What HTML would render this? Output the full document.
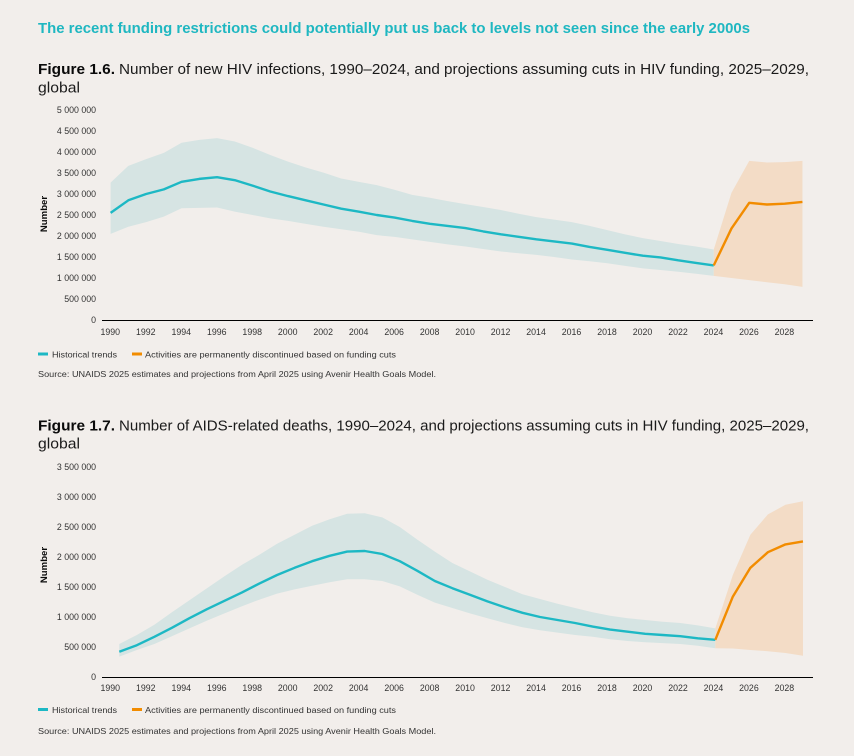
<!DOCTYPE html>
<html lang="en">
<head>
<meta charset="utf-8">
<title>HIV funding restrictions figures</title>
<style>
html,body{margin:0;padding:0;background:#f2eeeb;}
body{width:854px;height:756px;overflow:hidden;}
svg{display:block;font-family:"Liberation Sans",sans-serif;}
.fig-b{font-size:15px;font-weight:bold;fill:#0a0a0a;}
.fig-r{font-size:15px;fill:#1a1a1a;}
.small{font-size:8.6px;fill:#333;}
.tick{font-size:8.8px;fill:#333;}
.axis-title{font-size:9.6px;font-weight:bold;fill:#0a0a0a;}
</style>
</head>
<body>
<svg id="page" width="854" height="756" viewBox="0 0 854 756" xmlns="http://www.w3.org/2000/svg">
  <rect width="854" height="756" fill="#f2eeeb"/>
  <text x="38" y="33" font-size="15" font-weight="bold" fill="#1fb7c1" textLength="712" lengthAdjust="spacingAndGlyphs">The recent funding restrictions could potentially put us back to levels not seen since the early 2000s</text>

  <text class="fig-b" x="38" y="74" textLength="77" lengthAdjust="spacingAndGlyphs">Figure 1.6.</text>
  <text class="fig-r" x="119" y="74" textLength="690" lengthAdjust="spacingAndGlyphs">Number of new HIV infections, 1990–2024, and projections assuming cuts in HIV funding, 2025–2029,</text>
  <text class="fig-r" x="38" y="92.5" textLength="42" lengthAdjust="spacingAndGlyphs">global</text>
  <g id="chart-hiv"></g>
  <text class="axis-title" text-anchor="middle" transform="translate(47,214) rotate(-90)">Number</text>
  <rect x="38" y="352.5" width="10" height="3" fill="#1db8c4"/>
  <text class="small" x="52" y="357.3" textLength="65" lengthAdjust="spacingAndGlyphs">Historical trends</text>
  <rect x="132" y="352.5" width="10" height="3" fill="#f28c00"/>
  <text class="small" x="145" y="357.3" textLength="251" lengthAdjust="spacingAndGlyphs">Activities are permanently discontinued based on funding cuts</text>
  <text class="small" x="38" y="377" textLength="398" lengthAdjust="spacingAndGlyphs">Source: UNAIDS 2025 estimates and projections from April 2025 using Avenir Health Goals Model.</text>

  <text class="fig-b" x="38" y="430.5" textLength="77" lengthAdjust="spacingAndGlyphs">Figure 1.7.</text>
  <text class="fig-r" x="119" y="430.5" textLength="690" lengthAdjust="spacingAndGlyphs">Number of AIDS-related deaths, 1990–2024, and projections assuming cuts in HIV funding, 2025–2029,</text>
  <text class="fig-r" x="38" y="448.5" textLength="42" lengthAdjust="spacingAndGlyphs">global</text>
  <g id="chart-aids"></g>
  <text class="axis-title" text-anchor="middle" transform="translate(47,565) rotate(-90)">Number</text>
  <rect x="38" y="708" width="10" height="3" fill="#1db8c4"/>
  <text class="small" x="52" y="713" textLength="65" lengthAdjust="spacingAndGlyphs">Historical trends</text>
  <rect x="132" y="708" width="10" height="3" fill="#f28c00"/>
  <text class="small" x="145" y="713" textLength="251" lengthAdjust="spacingAndGlyphs">Activities are permanently discontinued based on funding cuts</text>
  <text class="small" x="38" y="734" textLength="398" lengthAdjust="spacingAndGlyphs">Source: UNAIDS 2025 estimates and projections from April 2025 using Avenir Health Goals Model.</text>
</svg>
<script>
// Shared categories (years)
const histYears = [1990,1991,1992,1993,1994,1995,1996,1997,1998,1999,2000,2001,2002,2003,2004,2005,2006,2007,2008,2009,2010,2011,2012,2013,2014,2015,2016,2017,2018,2019,2020,2021,2022,2023,2024];
const projYears = [2024,2025,2026,2027,2028,2029];
const xTickYears = [1990,1992,1994,1996,1998,2000,2002,2004,2006,2008,2010,2012,2014,2016,2018,2020,2022,2024,2026,2028];

// Figure 1.6: new HIV infections (millions)
const hivCentral = [2.55,2.85,3.00,3.11,3.29,3.36,3.40,3.33,3.20,3.06,2.95,2.85,2.75,2.65,2.58,2.50,2.44,2.36,2.29,2.24,2.19,2.11,2.04,1.98,1.92,1.87,1.82,1.74,1.67,1.60,1.53,1.49,1.42,1.36,1.30];
const hivUpper = [3.27,3.67,3.83,3.98,4.22,4.29,4.33,4.25,4.10,3.93,3.77,3.63,3.51,3.37,3.29,3.21,3.10,2.98,2.91,2.83,2.76,2.69,2.62,2.53,2.45,2.39,2.33,2.24,2.14,2.04,1.95,1.88,1.81,1.75,1.68];
const hivLower = [2.05,2.22,2.33,2.46,2.66,2.67,2.68,2.58,2.50,2.42,2.36,2.29,2.22,2.16,2.10,2.02,1.98,1.92,1.86,1.80,1.75,1.69,1.63,1.59,1.55,1.50,1.44,1.40,1.35,1.29,1.23,1.19,1.15,1.10,1.05];
const hivProjCentral = [1.30,2.18,2.79,2.75,2.77,2.81];
const hivProjUpper = [1.68,3.03,3.79,3.75,3.76,3.79];
const hivProjLower = [1.05,1.00,0.95,0.90,0.85,0.79];
const hivTickValues = [0,0.5,1,1.5,2,2.5,3,3.5,4,4.5,5];
const hivTickLabels = ["0","500 000","1 000 000","1 500 000","2 000 000","2 500 000","3 000 000","3 500 000","4 000 000","4 500 000","5 000 000"];

// Figure 1.7: AIDS-related deaths (millions)
const aidsCentral = [0.42,0.53,0.67,0.82,0.98,1.13,1.27,1.41,1.56,1.70,1.82,1.93,2.02,2.09,2.10,2.05,1.93,1.77,1.60,1.48,1.37,1.26,1.16,1.07,1.00,0.95,0.90,0.84,0.79,0.755,0.72,0.70,0.68,0.645,0.62];
const aidsUpper = [0.55,0.70,0.87,1.08,1.28,1.48,1.68,1.87,2.04,2.22,2.37,2.52,2.63,2.72,2.73,2.66,2.50,2.29,2.09,1.90,1.76,1.62,1.50,1.38,1.30,1.22,1.15,1.08,1.02,0.98,0.95,0.92,0.90,0.86,0.81];
const aidsLower = [0.34,0.45,0.55,0.68,0.81,0.94,1.06,1.18,1.29,1.39,1.46,1.52,1.58,1.63,1.63,1.60,1.51,1.37,1.24,1.15,1.06,0.98,0.90,0.83,0.78,0.74,0.70,0.67,0.63,0.60,0.58,0.565,0.55,0.52,0.48];
const aidsProjCentral = [0.62,1.34,1.82,2.08,2.21,2.26];
const aidsProjUpper = [0.81,1.70,2.37,2.71,2.87,2.93];
const aidsProjLower = [0.48,0.475,0.45,0.43,0.40,0.355];
const aidsTickValues = [0,0.5,1,1.5,2,2.5,3,3.5];
const aidsTickLabels = ["0","500 000","1 000 000","1 500 000","2 000 000","2 500 000","3 000 000","3 500 000"];

const SVGNS = "http://www.w3.org/2000/svg";
const TEAL = "#1db8c4", TEAL_BAND = "#d6e4e3", ORANGE = "#f28c00", ORANGE_BAND = "#f3dcc6";

function tickX(year){ return 110.3 + (year - 1990) * 17.74; }

function pathPoints(xs, vals, xFn, yFn){
  return xs.map(function(x, i){ return xFn(x).toFixed(2) + "," + yFn(vals[i]).toFixed(2); });
}

function drawChart(root, xFn, yFn, axisY, labelOffset, tickValues, tickLabels, central, upper, lower, pCentral, pUpper, pLower){
  const histBand = document.createElementNS(SVGNS, "polygon");
  
  
  histBand.setAttribute("fill", TEAL_BAND);
  histBand.setAttribute("points", pathPoints(histYears, upper, xFn, yFn).concat(pathPoints(histYears, lower, xFn, yFn).reverse()).join(" "));
  root.appendChild(histBand);

  const projBand = document.createElementNS(SVGNS, "polygon");
  
  
  projBand.setAttribute("fill", ORANGE_BAND);
  projBand.setAttribute("points", pathPoints(projYears, pUpper, xFn, yFn).concat(pathPoints(projYears, pLower, xFn, yFn).reverse()).join(" "));
  root.appendChild(projBand);

  const histLine = document.createElementNS(SVGNS, "polyline");
  
  
  histLine.setAttribute("fill", "none");
  histLine.setAttribute("stroke", TEAL);
  histLine.setAttribute("stroke-width", "2.4");
  histLine.setAttribute("stroke-linejoin", "round");
  histLine.setAttribute("points", pathPoints(histYears, central, xFn, yFn).join(" "));
  root.appendChild(histLine);

  const projLine = document.createElementNS(SVGNS, "polyline");
  
  
  projLine.setAttribute("fill", "none");
  projLine.setAttribute("stroke", ORANGE);
  projLine.setAttribute("stroke-width", "2.4");
  projLine.setAttribute("stroke-linejoin", "round");
  projLine.setAttribute("points", pathPoints(projYears, pCentral, xFn, yFn).join(" "));
  root.appendChild(projLine);

  const axis = document.createElementNS(SVGNS, "line");
  
  
  axis.setAttribute("x1", 102);
  axis.setAttribute("x2", 813);
  axis.setAttribute("y1", axisY);
  axis.setAttribute("y2", axisY);
  axis.setAttribute("stroke", "#000");
  axis.setAttribute("stroke-width", "1");
  root.appendChild(axis);

  tickValues.forEach(function(v, i){
    const t = document.createElementNS(SVGNS, "text");
    
    
    t.setAttribute("class", "tick");
    t.setAttribute("x", 96);
    t.setAttribute("y", (yFn(v) + 2.9).toFixed(2));
    t.setAttribute("text-anchor", "end");
    t.textContent = tickLabels[i];
    root.appendChild(t);
  });

  xTickYears.forEach(function(year){
    const t = document.createElementNS(SVGNS, "text");
    
    
    t.setAttribute("class", "tick");
    t.setAttribute("x", tickX(year).toFixed(2));
    t.setAttribute("y", axisY + labelOffset);
    t.setAttribute("text-anchor", "middle");
    t.textContent = year;
    root.appendChild(t);
  });
}

function hivX(year){ return 110.6 + (year - 1990) * 17.74; }
function hivY(v){ return 320 - v * 42; }
function aidsX(year){ return 119.3 + (year - 1990) * 17.53; }
function aidsY(v){ return 677 - v * 60; }

drawChart(document.getElementById("chart-hiv"), hivX, hivY, 320.5, 14.5, hivTickValues, hivTickLabels, hivCentral, hivUpper, hivLower, hivProjCentral, hivProjUpper, hivProjLower);
drawChart(document.getElementById("chart-aids"), aidsX, aidsY, 677.5, 13.5, aidsTickValues, aidsTickLabels, aidsCentral, aidsUpper, aidsLower, aidsProjCentral, aidsProjUpper, aidsProjLower);
</script>
</body>
</html>
